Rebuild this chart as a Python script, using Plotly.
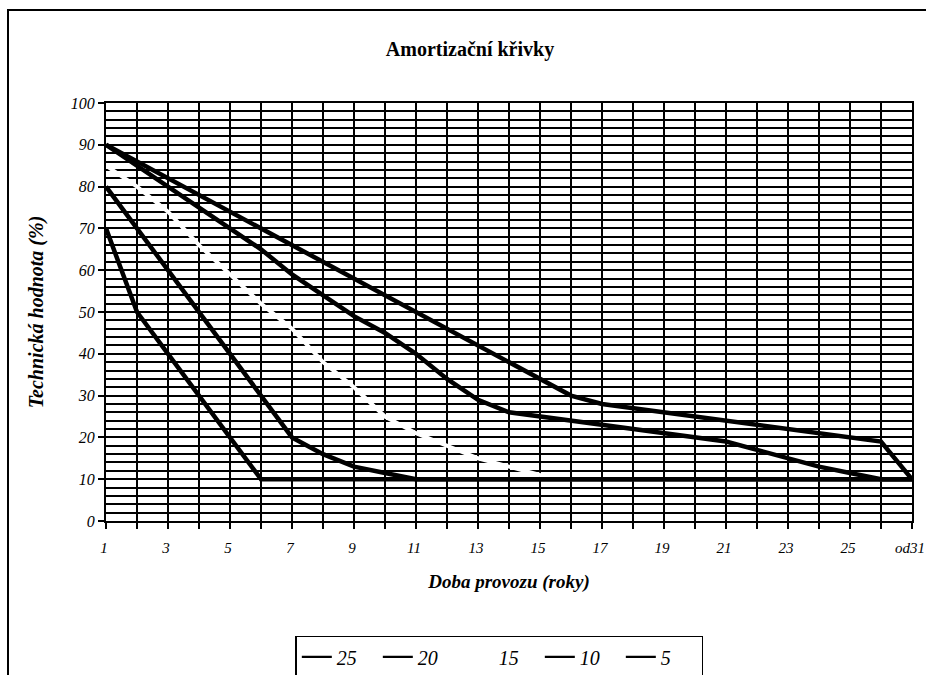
import plotly.graph_objects as go

# ---- data ----
categories = [str(i) for i in range(1, 27)] + ["od31"]
series_names = ["25", "20", "15", "10", "5"]
s25 = [90, 86, 82, 78, 74, 70, 66, 62, 58, 54, 50, 46, 42, 38, 34, 30, 28, 27, 26, 25, 24, 23, 22, 21, 20, 19, 10]
s20 = [90, 85, 80, 75, 70, 65, 59, 54, 49, 45, 40, 34, 29, 26, 25, 24, 23, 22, 21, 20, 19, 17, 15, 13, 11.5, 10, 10]
s15 = [85, 80, 74, 66, 59, 52, 46, 38, 32, 25, 21, 18, 15, 13, 11] + [10] * 12
s10 = [80, 70, 60, 50, 40, 30, 20, 16, 13, 11.5, 10] + [10] * 16
s5 = [70, 50, 40, 30, 20, 10] + [10] * 21
y_ticks = list(range(0, 101, 10))

series_values = [s25, s20, s15, s10, s5]
series_colors = ["black", "black", "white", "black", "black"]
series_widths = [4.5, 4.5, 4, 4.5, 4.5]

FONT = "Liberation Serif"

fig = go.Figure()
for name, vals, col, w in zip(series_names, series_values, series_colors, series_widths):
    fig.add_trace(go.Scatter(
        x=categories, y=vals, name=name, mode="lines", showlegend=False,
        line=dict(color=col, width=w), hoverinfo="skip"))
# legend-only entries with the thinner sample lines seen in the reference legend
for name, col in zip(series_names, series_colors):
    fig.add_trace(go.Scatter(
        x=[None], y=[None], name=name, mode="lines",
        line=dict(color=col, width=2.2), hoverinfo="skip"))

ticktext = [c if i % 2 == 0 else "" for i, c in enumerate(categories)]

fig.update_layout(
    width=926, height=675,
    margin=dict(l=106, r=14, t=103, b=154, autoexpand=False),
    paper_bgcolor="white", plot_bgcolor="white",
    font=dict(family=FONT, color="black"),
    title=dict(text="<b>Amortizační křivky</b>", x=470 / 926, xanchor="center",
               y=1 - 49 / 675, yanchor="middle",
               font=dict(family=FONT, size=20, color="black")),
    showlegend=True,
    legend=dict(orientation="h", x=0.488, xanchor="center", y=-0.275, yanchor="top",
                bordercolor="black", borderwidth=1.5, bgcolor="white",
                entrywidth=36, entrywidthmode="pixels",
                font=dict(family=FONT, size=20, style="italic", color="black"),
                itemclick=False, itemdoubleclick=False),
)

fig.update_xaxes(
    type="category", range=[0, len(categories) - 1], automargin=False,
    tickmode="array", tickvals=categories, ticktext=ticktext,
    ticks="outside", ticklen=6, tickwidth=2, tickcolor="black",
    ticklabelstandoff=6, ticklabelshift=-2,
    showgrid=True, gridcolor="black", gridwidth=2,
    showline=True, linecolor="black", linewidth=2, mirror=True,
    tickfont=dict(family=FONT, size=15, style="italic", color="black"),
    title=dict(text="<b><i>Doba provozu (roky)</i></b>", standoff=20,
               font=dict(family=FONT, size=19, color="black")),
    zeroline=False,
)

fig.update_yaxes(
    range=[0, 100], tickmode="array", tickvals=y_ticks, automargin=False,
    ticks="outside", ticklen=6, tickwidth=2, tickcolor="black",
    showgrid=True, gridcolor="black", gridwidth=2,
    minor=dict(dtick=2, showgrid=True, gridcolor="black", gridwidth=1.8, ticks=""),
    showline=True, linecolor="black", linewidth=2, mirror=True,
    tickfont=dict(family=FONT, size=16, style="italic", color="black"),
    title=dict(text="<b><i>Technická hodnota (%)</i></b>", standoff=22,
               font=dict(family=FONT, size=20, color="black")),
    zeroline=False,
)

# outer chart border (top and left visible in reference)
fig.add_shape(type="rect", xref="paper", yref="paper",
              x0=(8 - 106) / 806, x1=1.2, y0=-0.5, y1=(521 - 10) / 418,
              line=dict(color="black", width=2), layer="below")

fig.write_html("out.html", config={"displayModeBar": False},
               post_script="document.body.style.margin='0';document.body.style.overflow='hidden';")
